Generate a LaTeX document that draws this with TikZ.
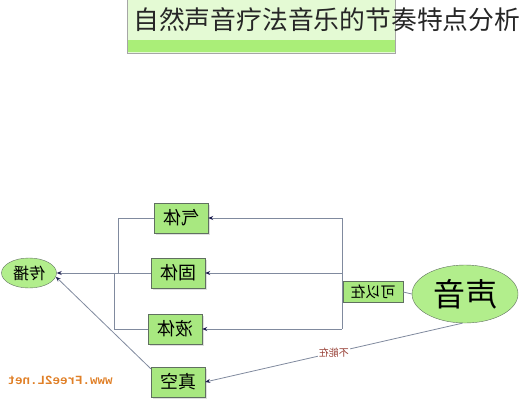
\documentclass[tikz,border=0pt]{standalone}
\usepackage{fontspec}
\usepackage{graphicx}
\setmainfont{Noto Sans CJK SC}
\newfontfamily\webmono{Liberation Mono}
\usetikzlibrary{shapes.geometric,shadows,arrows.meta}
\definecolor{boxgreen}{RGB}{168,232,128}
\definecolor{ovalgreen}{RGB}{178,238,140}
\definecolor{edgegray}{RGB}{96,112,96}
\definecolor{linkgray}{RGB}{128,138,158}
\definecolor{tipnavy}{RGB}{30,30,80}
\definecolor{headlight}{RGB}{228,250,212}
\definecolor{headband}{RGB}{170,238,120}
\definecolor{markorange}{RGB}{224,128,40}
\definecolor{notered}{RGB}{150,60,50}
\begin{document}
\begin{tikzpicture}[
    x=1pt, y=-1pt,
    state/.style={rectangle, draw=edgegray, fill=boxgreen, minimum width=54pt, minimum height=30pt, inner sep=0pt, font=\fontsize{18}{18}\selectfont, drop shadow={shadow xshift=1.5pt, shadow yshift=-1.5pt, fill=gray!50}},
    oval/.style={ellipse, draw=edgegray, fill=ovalgreen, inner sep=0pt},
    line/.style={draw=linkgray, line width=0.8pt},
    arrow/.style={line, -{Stealth[length=5pt, width=4pt, color=tipnavy]}}
]
\useasboundingbox (0,0) rectangle (519,400);

% Header
\fill[headlight] (127,0) rectangle (395,53);
\fill[headband] (127,40) rectangle (395,52);
\draw[gray!70] (127,0) -- (127,53) -- (395,53) -- (395,0);
\node[anchor=west, inner sep=0pt, font=\fontsize{25.8}{26}\selectfont, text=black!85] (title) at (133,20) {自然声音疗法音乐的节奏特点分析};

% States of matter
\node[state] (qiti) at (181,218) {\reflectbox{气体}};
\node[state] (guti) at (178,273) {\reflectbox{固体}};
\node[state] (yeti) at (175,329) {\reflectbox{液体}};
\node[state] (zhenkong) at (178,382) {\reflectbox{真空}};

% Ovals
\node[oval, minimum width=55pt, minimum height=30pt, font=\fontsize{16}{16}\selectfont] (chuanbo) at (29,273) {\reflectbox{传播}};
\node[oval, minimum width=106pt, minimum height=58pt, font=\fontsize{32}{32}\selectfont] (shengyin) at (465,294) {\reflectbox{声音}};

% Label box
\node[rectangle, draw=edgegray, fill=boxgreen, minimum width=60pt, minimum height=21pt, inner sep=0pt, font=\fontsize{15}{15}\selectfont] (keyizai) at (373,292) {\reflectbox{可以在}};

% Spine on the right
\coordinate (rt) at (342,218);
\coordinate (rm) at (342,273);
\coordinate (rb) at (342,329);
\draw[line] (rt) -- (rb);
\draw[arrow] (rt) -- (qiti.east);
\draw[arrow] (rm) -- (guti.east);
\draw[arrow] (rb) -- (yeti.east);
\draw[line] (shengyin.west) -- (keyizai.east);

% Spine on the left
\coordinate (lt) at (118,273);
\coordinate (lb) at (114,273);
\draw[line] (qiti.west) -| (lt);
\draw[line] (yeti.west) -| (lb);
\draw[arrow] (guti.west) -- (chuanbo.east);

% Vacuum
\draw[arrow] (zhenkong.154) -- (chuanbo.-8);
\draw[arrow] (shengyin.265) -- node[fill=white, inner sep=1pt, text=notered, font=\fontsize{10}{10}\selectfont] (bunengzai) {\reflectbox{不能在}} (zhenkong.east);

% Watermark
\node[text=markorange, font=\webmono\bfseries\fontsize{12.5}{12}\selectfont] (mark) at (60,380) {\reflectbox{www.Free2L.net}};

\end{tikzpicture}
\end{document}
